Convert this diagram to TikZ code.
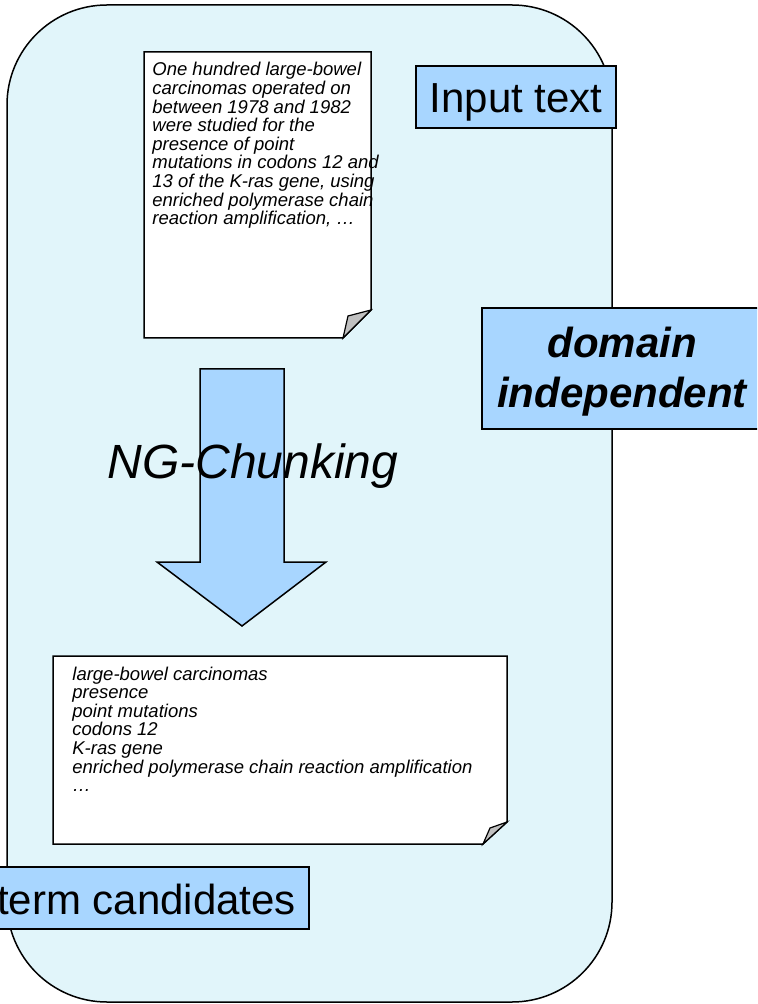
\documentclass[tikz,border=0pt]{standalone}
\usepackage{fontspec}
\setmainfont{Liberation Sans}
\definecolor{panelbg}{RGB}{225,245,250}
\definecolor{tagblue}{RGB}{168,214,255}
\definecolor{foldgray}{RGB}{192,192,192}
\begin{document}
\begin{tikzpicture}[x=0.5pt,y=-0.5pt,
  outline/.style={draw=black,line width=0.75pt,line join=miter},
  tagbox/.style={outline,fill=tagblue,inner sep=0pt,font=\fontsize{21pt}{25pt}\selectfont,
    text height=16pt,text depth=0pt},
  doctext/.style={inner sep=0pt,align=left,font=\fontsize{9.25pt}{9.3pt}\selectfont\itshape},
  pagefill/.style={outline,fill=white},
  foldfill/.style={outline,fill=foldgray,line width=0.6pt}]
\useasboundingbox (0,0) rectangle (757,1004);
\clip (0,0) rectangle (757,1004);

% processing panel
\draw[outline,fill=panelbg,rounded corners=50pt] (7,5) rectangle (612,1002);

% source document with folded corner (text anchored at its last baseline)
\draw[pagefill] (144,52) -- (371,52) -- (371,310) -- (343,338) -- (144,338) -- cycle;
\draw[foldfill] (371,310) -- (348,316) -- (343,338) -- cycle;
\node[doctext,anchor=base west] (srctext) at (152,224.8) {One hundred large-bowel\\
carcinomas operated on\\
between 1978 and 1982\\
were studied for the\\
presence of point\\
mutations in codons 12 and\\
13 of the K-ras gene, using\\
enriched polymerase chain\\
reaction amplification, …};

% result document with folded corner
\draw[pagefill] (53,656) -- (507,656) -- (507,822) -- (483,844) -- (53,844) -- cycle;
\draw[foldfill] (507,822) -- (490,828) -- (483,844) -- cycle;
\node[doctext,anchor=base west] (restext) at (72,791.6) {large-bowel carcinomas\\
presence\\
point mutations\\
codons 12\\
K-ras gene\\
enriched polymerase chain reaction amplification\\
…};

% block arrow between the documents
\draw[outline,fill=tagblue] (200,369) -- (284,369) -- (284,562) -- (326,562) -- (242,626)
  -- (157,562) -- (200,562) -- cycle;
\node[inner sep=0pt,anchor=base west,font=\fontsize{24pt}{28pt}\selectfont\itshape]
  (step) at (107,478) {NG-Chunking};

% labels
\node[tagbox,minimum width=100pt,minimum height=31pt] (input) at (516,97) {Input text};
\node[tagbox,minimum width=162.5pt,minimum height=31pt] (terms) at (146.5,898) {term candidates};
\node[outline,fill=tagblue,inner sep=0pt,minimum width=140pt,minimum height=60.5pt,
  align=center,font=\fontsize{21pt}{25pt}\selectfont\bfseries\itshape,
  text height=39.5pt,text depth=0pt] (domain) at (622,368.5) {domain\\independent};
\end{tikzpicture}
\end{document}
